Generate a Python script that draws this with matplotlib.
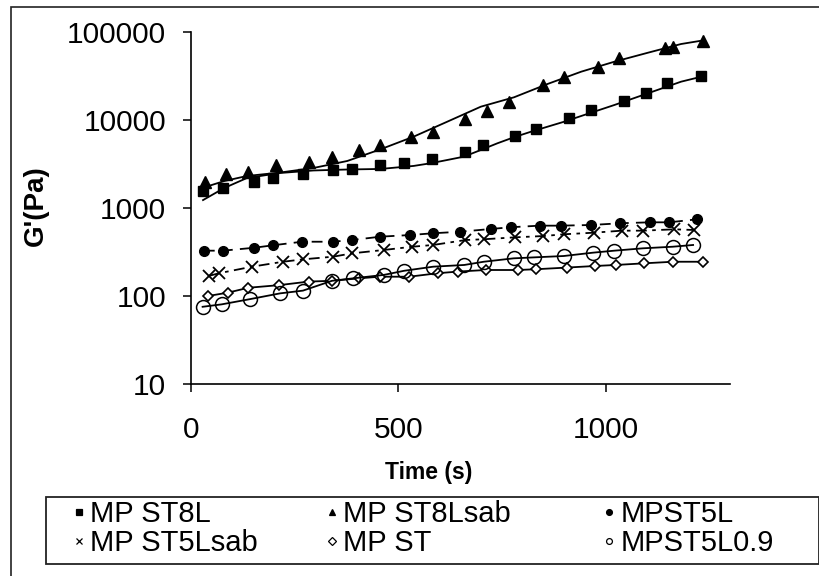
import matplotlib.pyplot as plt
from matplotlib.lines import Line2D
from matplotlib.patches import Rectangle
from matplotlib.ticker import FuncFormatter, NullLocator

plt.rcParams['font.family'] = ['Liberation Sans', 'DejaVu Sans']

# MP ST8L (squares) and its fitted curve
t_st8l = [28, 78, 151, 198, 270, 342, 389, 455, 513, 582, 660, 705, 781, 833, 911, 965, 1045, 1098, 1148, 1229]
g_st8l = [1570, 1710, 2000, 2190, 2430, 2720, 2800, 3080, 3300, 3600, 4400, 5240, 6680, 8040, 10540, 13090, 16700, 20600, 26300, 32100]
t_st8l_fit = [29, 80, 135, 215, 295, 377, 457, 537, 578, 618, 658, 699, 739, 779, 820, 860, 900, 941, 1021, 1102, 1182, 1231]
g_st8l_fit = [1240, 1700, 2210, 2520, 2690, 2760, 2800, 3030, 3250, 3540, 3860, 4600, 5480, 6420, 7420, 8460, 9640, 11190, 14920, 20270, 27470, 31290]

# MP ST8Lsab (triangles) and its fitted curve
t_st8lsab = [34, 85, 138, 206, 284, 340, 406, 455, 531, 584, 661, 715, 767, 848, 900, 982, 1032, 1144, 1162, 1235]
g_st8lsab = [2000, 2430, 2600, 3100, 3330, 3800, 4600, 5250, 6520, 7370, 10420, 12850, 16270, 25400, 31270, 40000, 51400, 65800, 68600, 80300]
t_st8lsab_fit = [27, 80, 135, 215, 295, 377, 457, 537, 618, 699, 779, 860, 941, 1021, 1102, 1182, 1231]
g_st8lsab_fit = [1700, 2040, 2330, 2550, 2870, 3450, 4680, 6520, 9640, 14280, 18250, 25870, 35670, 46300, 58600, 73600, 80300]

# MPST5L (filled circles)
t_st5l = [31, 77, 152, 198, 268, 342, 389, 457, 529, 583, 650, 723, 771, 841, 892, 965, 1035, 1106, 1153, 1221]
g_st5l = [330, 330, 356, 380, 417, 417, 436, 476, 497, 520, 542, 582, 609, 635, 635, 646, 676, 693, 693, 750]

# MP ST5Lsab (crosses)
t_st5lsab = [44, 68, 147, 222, 270, 343, 389, 465, 534, 584, 662, 707, 782, 850, 900, 971, 1039, 1090, 1165, 1213]
g_st5lsab = [171, 183, 217, 247, 263, 282, 308, 336, 366, 383, 436, 445, 468, 484, 507, 528, 557, 557, 577, 567]

# MP ST (diamonds)
t_st = [42, 89, 138, 213, 284, 340, 405, 455, 526, 596, 644, 711, 788, 832, 906, 974, 1025, 1093, 1162, 1235]
g_st = [101, 110, 125, 134, 147, 150, 160, 167, 167, 183, 191, 199, 199, 203, 212, 221, 227, 237, 247, 247]

# MPST5L0.9 (open circles)
t_st5l09 = [28, 74, 143, 215, 270, 340, 391, 465, 514, 584, 659, 706, 778, 828, 899, 969, 1021, 1090, 1162, 1211]
g_st5l09 = [76, 81, 93, 108, 116, 150, 160, 175, 195, 217, 227, 247, 270, 277, 287, 313, 330, 351, 366, 383]

fig = plt.figure(figsize=(8.2, 5.76), dpi=100)
ax = fig.add_axes([191 / 820, 1 - 384.3 / 576, 539 / 820, 352 / 576])

k = 'black'
ax.plot(t_st8l_fit, g_st8l_fit, color=k, lw=1.3)
ax.plot(t_st8l, g_st8l, ls='none', marker='s', ms=7, color=k)
ax.plot(t_st8lsab_fit, g_st8lsab_fit, color=k, lw=1.3)
ax.plot(t_st8lsab, g_st8lsab, ls='none', marker='^', ms=8.5, color=k)
ax.plot(t_st5l, g_st5l, color=k, lw=1.3, ls=(0, (6, 4)), marker='o', ms=7)
ax.plot(t_st5lsab, g_st5lsab, color=k, lw=1.3, ls=(0, (6, 3, 2, 3)), marker='x', ms=8, mew=1.3)
ax.plot(t_st, g_st, color=k, lw=1.3, marker='D', ms=5.5, mfc='white', mew=1.2)
ax.plot(t_st5l09, g_st5l09, color=k, lw=1.3, marker='o', ms=10, mfc='none', mew=1.1)

ax.set_yscale('log')
ax.set_ylim(10, 100000)
ax.set_xlim(0, 1300)
ax.set_yticks([10, 100, 1000, 10000, 100000])
ax.yaxis.set_minor_locator(NullLocator())
ax.yaxis.set_major_formatter(FuncFormatter(lambda v, p: f'{v:.0f}'))
ax.set_xticks([0, 500, 1000])

for s in ['top', 'right']:
    ax.spines[s].set_visible(False)
for s in ['left', 'bottom']:
    ax.spines[s].set_linewidth(1.2)
ax.tick_params(direction='out', length=6, width=1.1, labelsize=21.5)
ax.tick_params(axis='y', pad=12)
ax.tick_params(axis='x', pad=17)

fig.text(429 / 820, 1 - 472 / 576, 'Time (s)', ha='center', va='center', fontsize=16.5, fontweight='bold')
fig.text(36 / 820, 1 - 206 / 576, "G'(Pa)", ha='center', va='center', rotation=90, fontsize=20, fontweight='bold')

# legend, one column at a time
cols = [
    [('s', 'MP ST8L', 'black'), ('x', 'MP ST5Lsab', 'black')],
    [('^', 'MP ST8Lsab', 'black'), ('D', 'MP ST', 'white')],
    [('o', 'MPST5L', 'black'), ('o', 'MPST5L0.9', 'white')],
]
col_x = [73, 326, 603]
for xs, col in zip(col_x, cols):
    hs = [Line2D([], [], ls='none', marker=m, ms=4.2, color='black', mfc=fc, mew=0.9) for m, _, fc in col]
    fig.legend(hs, [lab for _, lab, _ in col], loc='upper left', bbox_to_anchor=(xs / 820, 1 - 500 / 576),
               frameon=False, fontsize=21, handlelength=0.4, handletextpad=0.2, labelspacing=0.05,
               borderpad=0, borderaxespad=0)

fig.add_artist(Rectangle((46 / 820, 1 - 564 / 576), 773 / 820, 67 / 576, transform=fig.transFigure,
                         fill=False, lw=1.3, edgecolor='#222222'))
fig.add_artist(Rectangle((11 / 820, -0.1), 1.0, 1.1 - 7 / 576, transform=fig.transFigure,
                         fill=False, lw=1.2, edgecolor='#222222', clip_on=False))

fig.savefig('out.png', dpi=100)
